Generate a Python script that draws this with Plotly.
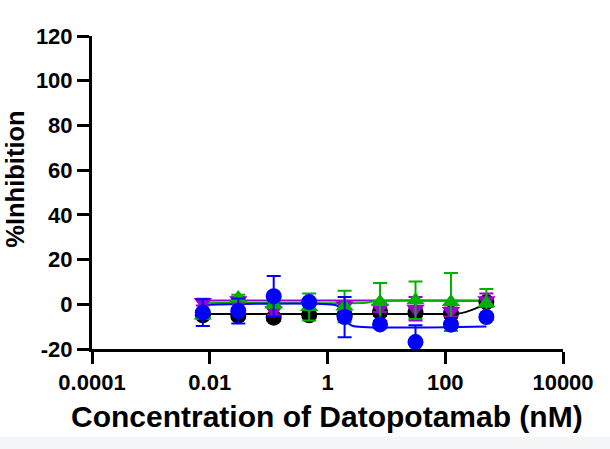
import plotly.graph_objects as go

# Concentrations (nM), 4-fold dilution series
conc = [0.00763, 0.0305, 0.122, 0.488, 1.95, 7.81, 31.25, 125, 500]

# Series values (% inhibition) and SD
black_y = [-4.9, -5.2, -6.0, -4.9, -5.0, -3.4, -3.7, -4.2, 1.0]
black_err = [1.2, 1.5, 1.5, 1.2, 1.5, 1.8, 1.8, 1.8, 1.2]
purple_y = [1.0, 1.8, -2.7, -1.0, -0.5, -1.5, -2.0, -3.0, 1.8]
purple_err = [1.5, 1.5, 2.0, 1.5, 2.0, 2.0, 5.3, 2.5, 3.0]
green_y = [-5.0, 2.8, -0.1, -1.2, -1.0, 1.0, 1.8, 1.0, 0.5]
green_err = [1.5, 1.5, 1.5, 6.0, 7.0, 8.5, 8.4, 13.0, 6.3]
blue_y = [-3.7, -3.0, 3.6, 1.0, -5.7, -9.0, -16.9, -9.1, -5.7]
blue_err = [6.0, 5.6, 9.1, 1.5, 9.0, 1.5, 7.5, 1.5, 1.2]

# Fitted curves, knots
black_curve_x = [0.00763, 100, 160, 220, 300, 400, 500]
black_curve_y = [-4.4, -4.4, -4.2, -3.5, -2.3, -0.8, 0.5]
purple_curve_x = [0.00763, 500]
purple_curve_y = [1.7, 1.7]
green_curve_x = [0.00763, 4.5, 5.5, 6.5, 500]
green_curve_y = [0.7, 0.7, 1.1, 1.5, 1.5]
blue_curve_x = [0.00763, 1.4, 1.75, 2.0, 2.3, 2.8, 500]
blue_curve_y = [-0.3, -0.4, -2.0, -5.5, -8.7, -9.8, -9.9]

x_tickvals = [1e-4, 1e-2, 1, 100, 1e4]
x_ticktext = ["0.0001", "0.01", "1", "100", "10000"]
y_tickvals = [-20, 0, 20, 40, 60, 80, 100, 120]
y_ticktext = ["-20", "0", "20", "40", "60", "80", "100", "120"]

BLACK = "#000000"
PURPLE = "#9B00D6"
GREEN = "#00B000"
BLUE = "#0000FF"

FONT = "Arial, 'Liberation Sans', sans-serif"

fig = go.Figure()

for cx, cy, col in [
    (black_curve_x, black_curve_y, BLACK),
    (purple_curve_x, purple_curve_y, PURPLE),
    (green_curve_x, green_curve_y, GREEN),
    (blue_curve_x, blue_curve_y, BLUE),
]:
    fig.add_trace(go.Scatter(
        x=cx, y=cy, mode="lines",
        line=dict(color=col, width=2, shape="spline", smoothing=0.8),
        showlegend=False, hoverinfo="skip",
    ))

for yv, ev, col, sym in [
    (black_y, black_err, BLACK, "circle"),
    (purple_y, purple_err, PURPLE, "triangle-down"),
    (green_y, green_err, GREEN, "triangle-up"),
    (blue_y, blue_err, BLUE, "circle"),
]:
    fig.add_trace(go.Scatter(
        x=conc, y=yv, mode="markers",
        marker=dict(color=col, size=16, symbol=sym, line=dict(width=0)),
        error_y=dict(type="data", array=ev, visible=True, color=col,
                     thickness=2, width=7),
        showlegend=False,
    ))

axis_common = dict(
    showline=True, linewidth=3, linecolor="black",
    ticks="outside", ticklen=12, tickwidth=3, tickcolor="black",
    showgrid=False, zeroline=False, automargin=False,
    tickfont=dict(family=FONT, size=22, color="black", weight="bold"),
)

fig.update_layout(
    width=610, height=449, autosize=False,
    margin=dict(l=92, r=47, t=36, b=100),
    paper_bgcolor="white", plot_bgcolor="white",
    xaxis=dict(type="log", range=[-4, 4], tickvals=x_tickvals,
               ticktext=x_ticktext, **axis_common),
    yaxis=dict(range=[-20, 120], tickvals=y_tickvals, ticktext=y_ticktext,
               **axis_common),
    shapes=[dict(type="rect", xref="paper", yref="paper",
                 x0=-0.3, x1=1.2, y0=-0.33, y1=-0.2795,
                 fillcolor="#F4F5F7", line=dict(width=0), layer="below")],
    annotations=[
        dict(text="%Inhibition", xref="paper", yref="paper",
             x=-0.1635, y=0.544, xanchor="center", yanchor="middle",
             textangle=-90, showarrow=False,
             font=dict(family=FONT, size=25.5, color="black", weight="bold")),
        dict(text="Concentration of Datopotamab (nM)", xref="paper", yref="paper",
             x=0.498, y=-0.217, xanchor="center", yanchor="middle",
             showarrow=False,
             font=dict(family=FONT, size=30, color="black", weight="bold")),
    ],
)

fig.write_html(
    "out.html",
    config={"displayModeBar": False},
    post_script="document.body.style.margin='0';document.body.style.overflow='hidden';",
)
